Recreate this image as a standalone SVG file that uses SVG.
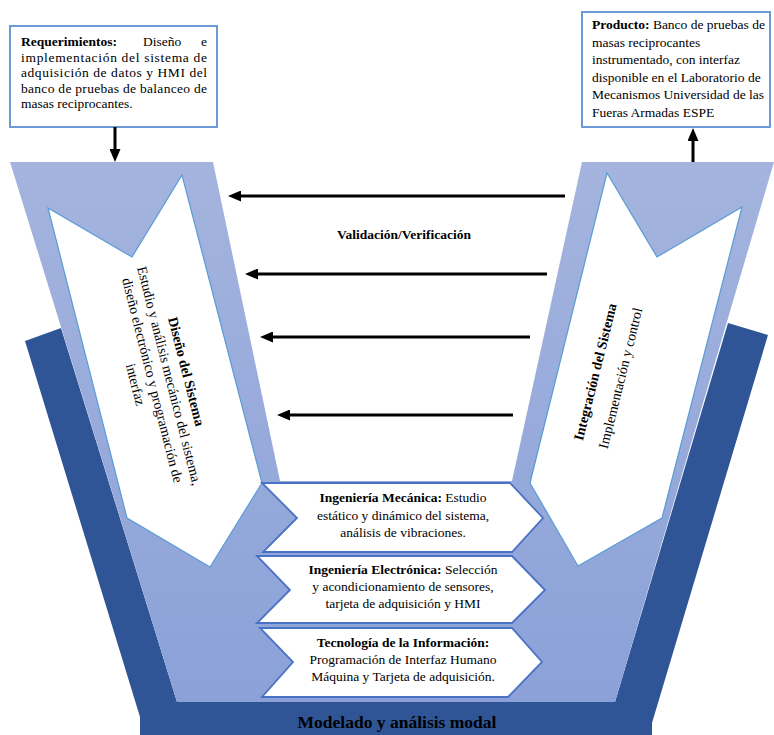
<svg xmlns="http://www.w3.org/2000/svg" width="774" height="735" viewBox="0 0 774 735">
<defs>
<linearGradient id="lb" x1="0" y1="0" x2="0" y2="1">
<stop offset="0" stop-color="#a4b4de"/>
<stop offset="1" stop-color="#8ba1d8"/>
</linearGradient>
<marker id="ah" viewBox="0 0 13 11" refX="3" refY="5.5" markerWidth="13" markerHeight="11" markerUnits="userSpaceOnUse" orient="auto">
<path d="M0,0 L13,5.5 L0,11 Z" fill="#000"/>
</marker>
<style>
text{font-family:"Liberation Serif","Times New Roman",serif;fill:#000;}
.t{font-size:13.5px;}
.b{font-weight:bold;}
.box{fill:#fff;stroke:#6b9ad6;stroke-width:2;}
.warrow{fill:#fff;stroke:#5b9bd5;stroke-width:1.2;}
.chev{fill:#fff;stroke:#4a72c4;stroke-width:1.8;}
.conn{stroke:#000;stroke-width:3;fill:none;marker-end:url(#ah);}
</style>
</defs>

<g id="base-dark">
<polygon points="25,341 61,328 177,702 615,702 728,323 768,335 652,723 652,735 140,735 140,717" fill="#2f5597"/>
</g>
<g id="funnel">
<polygon points="10,162 213,162 280,481 512,481 582,162 774,162 615,702 177,702" fill="url(#lb)"/>
</g>

<g id="box-requerimientos">
<rect class="box" x="10" y="26" width="207" height="101"/>
<text class="t b" x="21" y="46">Requerimientos:</text>
<text class="t" x="143" y="46">Diseño</text>
<text class="t" x="207" y="46" text-anchor="end">e</text>
<text class="t" x="21" y="61.5" textLength="186" lengthAdjust="spacing">implementación del sistema de</text>
<text class="t" x="21" y="77" textLength="186" lengthAdjust="spacing">adquisición de datos y HMI del</text>
<text class="t" x="21" y="92.5" textLength="186" lengthAdjust="spacing">banco de pruebas de balanceo de</text>
<text class="t" x="21" y="108">masas reciprocantes.</text>
</g>

<g id="box-producto">
<rect class="box" x="582" y="12" width="188" height="115"/>
<text class="t" x="592" y="29"><tspan class="b">Producto:</tspan> Banco de pruebas de</text>
<text class="t" x="592" y="47">masas reciprocantes</text>
<text class="t" x="592" y="64">instrumentado, con interfaz</text>
<text class="t" x="592" y="82">disponible en el Laboratorio de</text>
<text class="t" x="592" y="99">Mecanismos Universidad de las</text>
<text class="t" x="592" y="117">Fueras Armadas ESPE</text>
</g>

<g id="diseno">
<polygon class="warrow" points="48,208 132,257 182,175 262,483 210,567 127,518"/>
<g transform="translate(161,378) rotate(75.7)">
<text class="b" font-size="14" x="0" y="-21.5" text-anchor="middle">Diseño del Sistema</text>
<text font-size="14" x="0" y="-4" text-anchor="middle">Estudio y análisis mecánico del sistema,</text>
<text font-size="14" x="0" y="13.5" text-anchor="middle">diseño electrónico y programación de</text>
<text font-size="14" x="0" y="31" text-anchor="middle">interfaz</text>
</g>
</g>

<g id="integracion">
<polygon class="warrow" points="607,173 657,257 742,207 662,518 578,566 530,483"/>
<g transform="translate(608,375) rotate(-76)">
<text class="b" font-size="14" x="0" y="-8.5" text-anchor="middle">Integración del Sistema</text>
<text font-size="14" x="0" y="17.5" text-anchor="middle">Implementación y control</text>
</g>
</g>

<g id="mecanica">
<polygon class="chev" points="262,483 510,483 543,518 512,552 263,552 297,518"/>
<text class="t" x="403" y="502" text-anchor="middle"><tspan class="b">Ingeniería Mecánica:</tspan> Estudio</text>
<text class="t" x="403" y="519.5" text-anchor="middle">estático y dinámico del sistema,</text>
<text class="t" x="403" y="537" text-anchor="middle">análisis de vibraciones.</text>
</g>

<g id="electronica">
<polygon class="chev" points="257,556 512,556 545,590 512,623 257,623 290,590"/>
<text class="t" x="403" y="574" text-anchor="middle"><tspan class="b">Ingeniería Electrónica:</tspan> Selección</text>
<text class="t" x="403" y="591" text-anchor="middle">y acondicionamiento de sensores,</text>
<text class="t" x="403" y="608" text-anchor="middle">tarjeta de adquisición y HMI</text>
</g>

<g id="tecnologia">
<polygon class="chev" points="260,628 512,628 542,662 508,697 262,697 293,662"/>
<text class="t b" x="403" y="647" text-anchor="middle">Tecnología de la Información:</text>
<text class="t" x="403" y="664" text-anchor="middle">Programación de Interfaz Humano</text>
<text class="t" x="403" y="681" text-anchor="middle">Máquina y Tarjeta de adquisición.</text>
</g>

<g id="modelado">
<text class="b" font-size="17.5" x="397" y="728" text-anchor="middle">Modelado y análisis modal</text>
</g>

<g id="validacion">
<text class="t b" x="404" y="239" text-anchor="middle">Validación/Verificación</text>
</g>

<g id="connectors">
<line class="conn" x1="115" y1="127" x2="115" y2="152"/>
<line class="conn" x1="693" y1="162" x2="693" y2="138"/>
<line class="conn" x1="565" y1="196" x2="238" y2="196"/>
<line class="conn" x1="547" y1="274" x2="255" y2="274"/>
<line class="conn" x1="530" y1="337" x2="270" y2="337"/>
<line class="conn" x1="513" y1="415" x2="287" y2="415"/>
</g>
</svg>
